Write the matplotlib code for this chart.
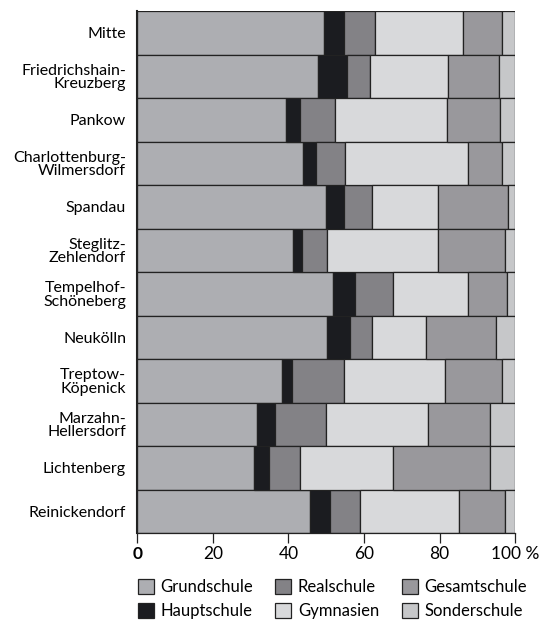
import numpy as np
import matplotlib.pyplot as plt

plt.rcParams["font.family"] = ["Lato", "DejaVu Sans"]

# Bezirke (von oben nach unten)
bezirke = [
    "Mitte",
    "Friedrichshain-\nKreuzberg",
    "Pankow",
    "Charlottenburg-\nWilmersdorf",
    "Spandau",
    "Steglitz-\nZehlendorf",
    "Tempelhof-\nSchöneberg",
    "Neukölln",
    "Treptow-\nKöpenick",
    "Marzahn-\nHellersdorf",
    "Lichtenberg",
    "Reinickendorf",
]

# Anteile in %
grundschule = [49.4, 47.9, 39.3, 44.0, 49.9, 41.1, 51.8, 50.2, 38.3, 31.7, 31.0, 45.7]
hauptschule = [5.3, 7.7, 3.8, 3.3, 4.8, 2.6, 5.9, 6.0, 2.7, 4.8, 4.0, 5.4]
realschule = [8.2, 6.0, 9.3, 7.6, 7.3, 6.5, 10.0, 5.9, 13.6, 13.4, 8.0, 7.8]
gymnasien = [23.3, 20.6, 29.7, 32.5, 17.7, 29.3, 19.9, 14.4, 26.9, 27.0, 24.7, 26.2]
gesamtschule = [10.4, 13.5, 14.0, 9.2, 18.3, 17.7, 10.3, 18.5, 15.0, 16.5, 25.6, 12.2]
sonderschule = [3.4, 4.3, 3.9, 3.4, 2.0, 2.8, 2.1, 5.0, 3.5, 6.6, 6.7, 2.7]

xticks = [0, 20, 40, 60, 80, 100]
xticklabels = ["0", "20", "40", "60", "80", "100 %"]

series = [
    ("Grundschule", grundschule, "#adaeb2"),
    ("Hauptschule", hauptschule, "#1b1c20"),
    ("Realschule", realschule, "#838286"),
    ("Gymnasien", gymnasien, "#d8d9db"),
    ("Gesamtschule", gesamtschule, "#99989c"),
    ("Sonderschule", sonderschule, "#c6c7c9"),
]

fig = plt.figure(figsize=(5.4, 6.2), dpi=100)
ax = fig.add_axes([0.254, 0.14, 0.7, 0.842])

y = np.arange(len(bezirke))
left = np.zeros(len(bezirke))
for name, vals, color in series:
    ax.barh(y, vals, left=left, height=1.0, color=color,
            edgecolor="#222222", linewidth=0.9, label=name)
    left += np.array(vals)

ax.set_ylim(len(bezirke) - 0.5, -0.5)
ax.set_xlim(0, 100)
ax.set_yticks(y)
ax.set_yticklabels(bezirke, fontsize=11.5, linespacing=0.95)
ax.tick_params(axis="y", length=0, pad=8)

ax.set_xticks(xticks)
ax.set_xticklabels(xticklabels, fontsize=12.5)
ax.get_xticklabels()[0].set_fontweight("bold")
ax.tick_params(axis="x", length=7, width=0.9, color="#222222", pad=2)

for s in ["top", "right"]:
    ax.spines[s].set_visible(False)
ax.spines["left"].set_linewidth(1.5)
ax.spines["bottom"].set_linewidth(0.9)
ax.spines["left"].set_color("#222222")
ax.spines["bottom"].set_color("#222222")

fig.legend(loc="upper left", bbox_to_anchor=(0.255, 0.066), ncol=3,
           frameon=False, fontsize=12, handlelength=0.95, handleheight=0.95,
           handletextpad=0.4, columnspacing=1.35, labelspacing=0.5,
           borderaxespad=0, borderpad=0)

fig.savefig("out.png", dpi=100)
